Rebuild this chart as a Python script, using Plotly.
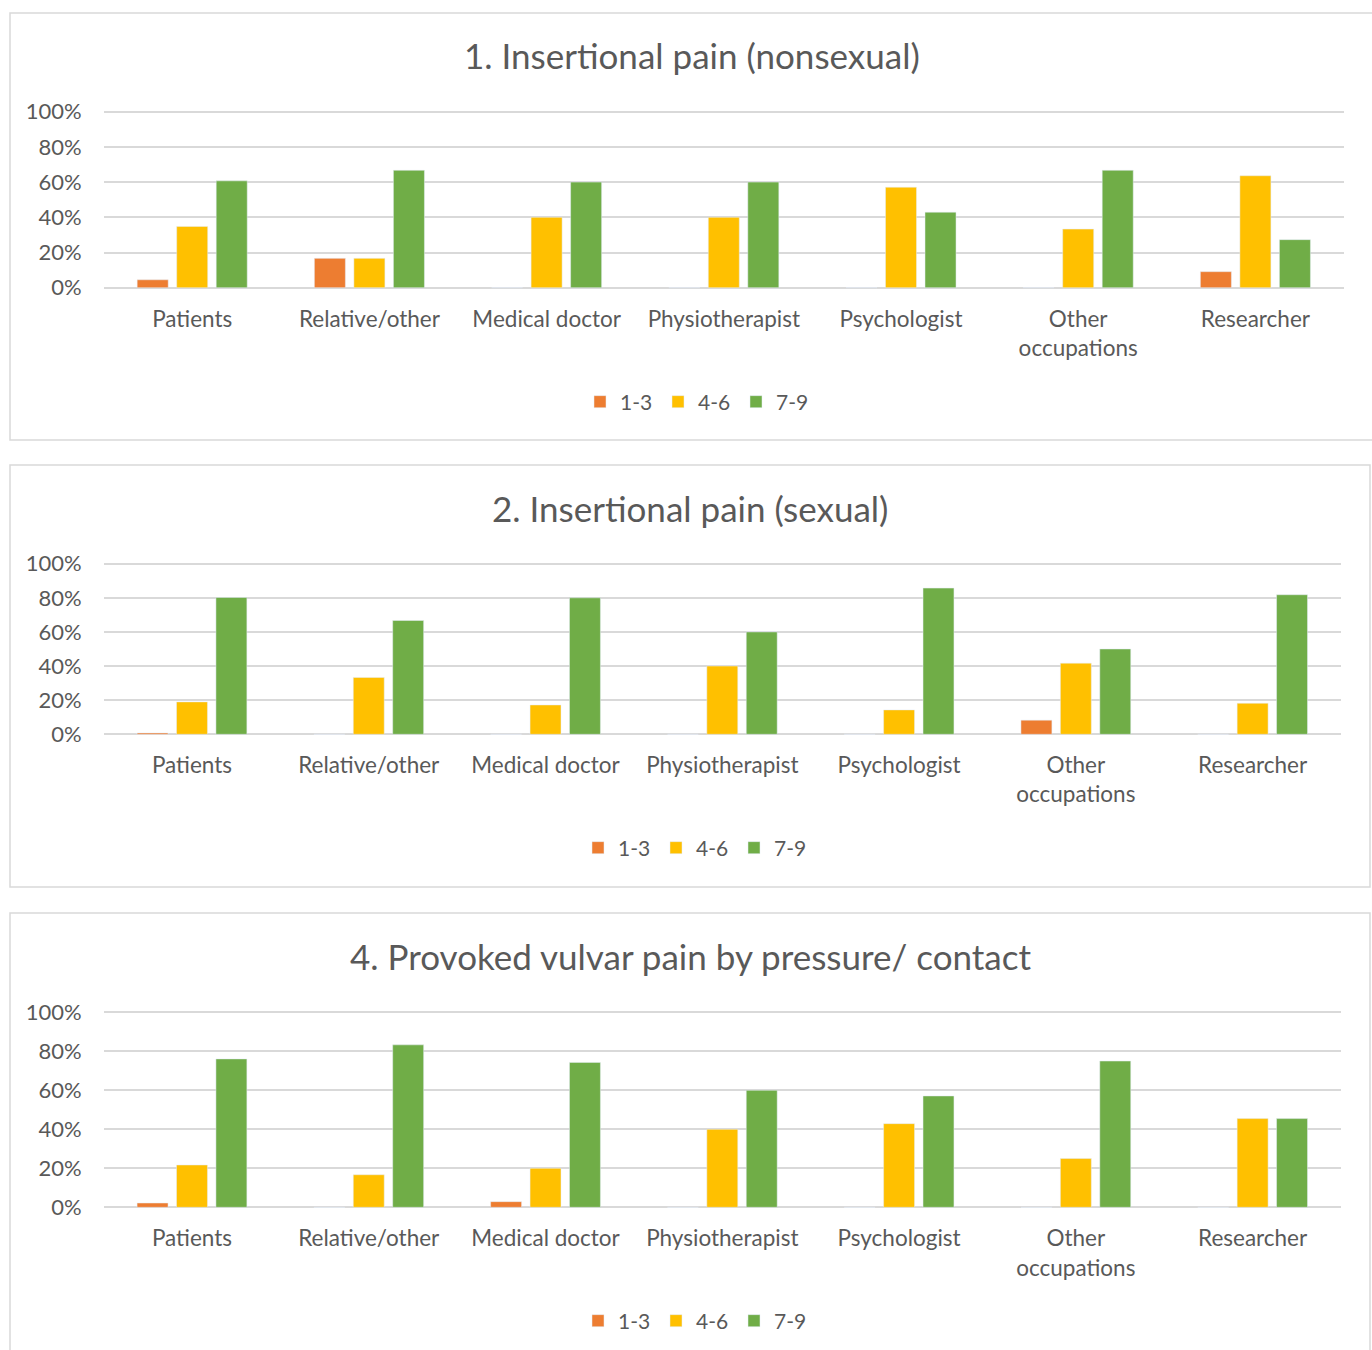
import plotly.graph_objects as go

W, H = 1372, 1350

categories = ["Patients", "Relative/other", "Medical doctor", "Physiotherapist",
              "Psychologist", "Other<br>occupations", "Researcher"]
series_names = ["1-3", "4-6", "7-9"]
series_colors = ["#ED7D31", "#FFC000", "#70AD47"]
tick_values = [0, 20, 40, 60, 80, 100]
tick_labels = ["0%", "20%", "40%", "60%", "80%", "100%"]

titles = ["1. Insertional pain (nonsexual)",
          "2. Insertional pain (sexual)",
          "4. Provoked vulvar pain by pressure/ contact"]

p1_13 = [4.5, 16.7, 0, 0, 0, 0, 9.1]
p1_46 = [34.8, 16.7, 40, 40, 57.1, 33.3, 63.6]
p1_79 = [60.7, 66.7, 60, 60, 42.9, 66.7, 27.3]

p2_13 = [0.8, 0, 0, 0, 0, 8.3, 0]
p2_46 = [19.0, 33.3, 17.2, 40, 14.3, 41.7, 18.2]
p2_79 = [80.2, 66.7, 80, 60, 85.7, 50, 81.8]

p3_13 = [2.2, 0, 2.9, 0, 0, 0, 0]
p3_46 = [21.7, 16.7, 20, 40, 42.9, 25, 45.5]
p3_79 = [76.1, 83.3, 74.3, 60, 57.1, 75, 45.5]

panels = [[p1_13, p1_46, p1_79], [p2_13, p2_46, p2_79], [p3_13, p3_46, p3_79]]

FONT = "Lato, 'Open Sans', sans-serif"
TXT = "#595959"
GRID = "#D9D9D9"

def px(x):
    return x / W

def py(y):
    return 1 - y / H

# layout geometry in pixels
plot_x = [(103.6, 1344), (103.6, 1341), (103.6, 1341)]
plot_y = [(111.7, 287.7), (563.7, 734.3), (1012.3, 1207.3)]   # (100% line, 0% line)
title_pos = [(692, 55), (690, 508), (690, 956)]
legend_pos = [(697, 402), (695, 848), (695, 1321)]
boxes = [(10, 13, 1385, 440), (10, 465, 1370, 887), (10, 913, 1370, 1365)]
PAD = 0.8  # small range padding (in %) so the 0% and 100% grid lines are drawn

fig = go.Figure()
layout = dict(width=W, height=H,
              margin=dict(l=0, r=0, t=0, b=0, autoexpand=False),
              paper_bgcolor="white", plot_bgcolor="white",
              barmode="group", bargap=0.331, bargroupgap=0.215,
              font=dict(family=FONT, color=TXT, size=22),
              shapes=[], annotations=[])

for i, vals in enumerate(panels):
    xa = "x" if i == 0 else f"x{i+1}"
    ya = "y" if i == 0 else f"y{i+1}"
    lg = "legend" if i == 0 else f"legend{i+1}"
    for name, color, v in zip(series_names, series_colors, vals):
        fig.add_trace(go.Bar(x=categories, y=v, name=name, marker_color=color,
                             xaxis=xa, yaxis=ya, legend=lg, hoverinfo="skip"))
    xk = "xaxis" if i == 0 else f"xaxis{i+1}"
    yk = "yaxis" if i == 0 else f"yaxis{i+1}"
    top, bot = plot_y[i]
    per = (bot - top) / 100.0
    layout[xk] = dict(domain=[px(plot_x[i][0]), px(plot_x[i][1])], anchor=ya,
                      showgrid=False, showline=False, ticks="", automargin=False,
                      tickfont=dict(size=22.5, color=TXT), ticklabelstandoff=14,
                      fixedrange=True)
    layout[yk] = dict(domain=[py(bot + PAD * per), py(top - PAD * per)], anchor=xa,
                      range=[-PAD, 100 + PAD], tickmode="array",
                      tickvals=tick_values, ticktext=tick_labels, automargin=False,
                      showgrid=True, gridcolor=GRID, gridwidth=1.6,
                      zeroline=False, showline=False, ticks="",
                      tickfont=dict(size=22, color=TXT),
                      ticklabelstandoff=21, fixedrange=True)
    layout[lg] = dict(orientation="h", x=px(legend_pos[i][0]), xanchor="center",
                      y=py(legend_pos[i][1]), yanchor="middle",
                      font=dict(size=21, color=TXT), itemwidth=30,
                      entrywidth=33, bgcolor="rgba(0,0,0,0)")
    layout["annotations"].append(dict(text=titles[i], xref="paper", yref="paper",
                                      x=px(title_pos[i][0]), y=py(title_pos[i][1]),
                                      xanchor="center", yanchor="middle", showarrow=False,
                                      font=dict(size=35, color=TXT, family=FONT)))
    b = boxes[i]
    layout["shapes"].append(dict(type="rect", xref="paper", yref="paper",
                                 x0=px(b[0]), x1=px(b[2]), y0=py(b[3]), y1=py(b[1]),
                                 line=dict(color=GRID, width=1.5), layer="below"))

fig.update_layout(**layout)
fig.write_html("out.html", config={"displayModeBar": False})
